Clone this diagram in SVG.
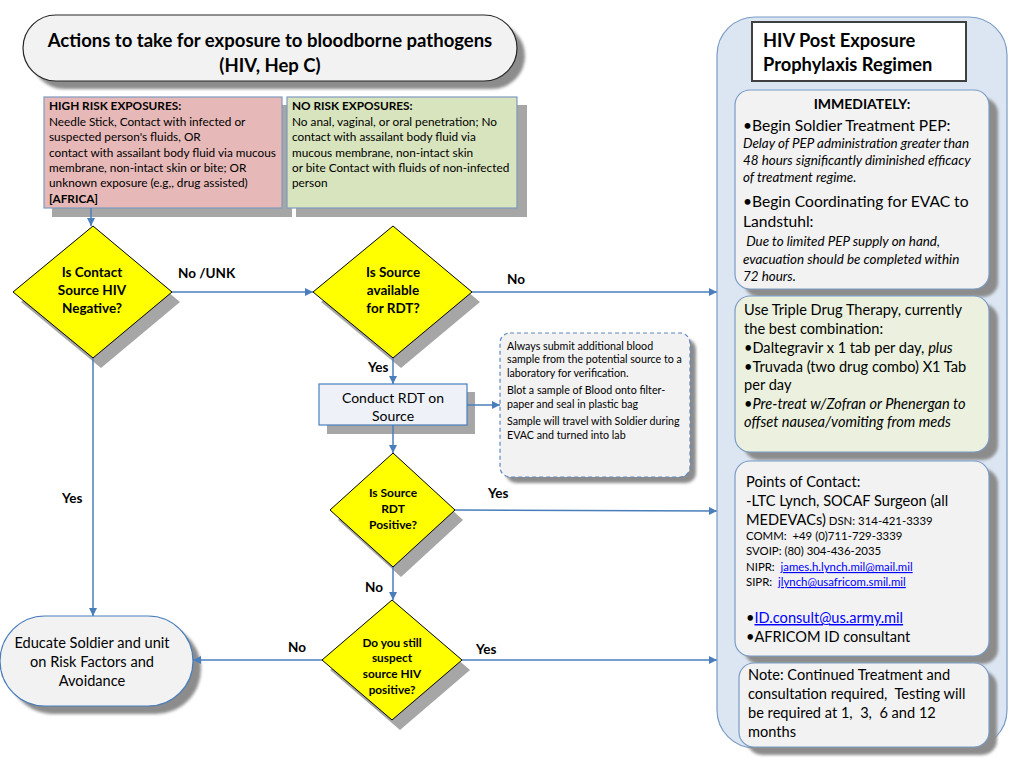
<svg xmlns="http://www.w3.org/2000/svg" width="1024" height="768" viewBox="0 0 1024 768">
<defs>
<marker id="arr" viewBox="0 0 10 10" refX="10" refY="5" markerWidth="8" markerHeight="8" markerUnits="userSpaceOnUse" orient="auto">
<path d="M0,0 L10,5 L0,10 z" fill="#4a7ebb"/>
</marker>
<filter id="blur" x="-10%" y="-10%" width="120%" height="120%"><feGaussianBlur stdDeviation="1.5"/></filter>
</defs>
<style>
text{font-family:Lato,"Liberation Sans",sans-serif;fill:#000;white-space:pre}
.b{font-weight:bold}
.i{font-style:italic}
.sh{fill:#8c8c8c;filter:url(#blur)}
.dsh{fill:#a6a6a6}
.dia{fill:#ffff00;stroke:#000;stroke-width:1}
.con{stroke:#4a7ebb;stroke-width:1.5;fill:none;marker-end:url(#arr)}
.lnk{fill:#0000ff;text-decoration:underline}
.lbl{font-size:13.5px;font-weight:bold}
.panel{fill:#f2f2f2;stroke:#7a9cc6;stroke-width:1.2}
</style>
<rect width="1024" height="768" fill="#fff"/>

<g id="title">
<rect x="31" y="23" width="494" height="66" rx="33" class="sh"/>
<rect x="23" y="15" width="494" height="66" rx="33" fill="#f2f2f2" stroke="#262626" stroke-width="1.2"/>
<text x="270" y="47" text-anchor="middle" class="b" font-size="18.5">Actions to take for exposure to bloodborne pathogens</text>
<text x="270" y="72" text-anchor="middle" class="b" font-size="18.5">(HIV, Hep C)</text>
</g>

<g id="high-risk">
<rect x="52" y="105" width="240" height="112" fill="#a6a6a6"/>
<rect x="44" y="97" width="238" height="111" fill="#e6b9b8" stroke="#7f99bd" stroke-width="1.2"/>
<g font-size="11.8">
<text x="49" y="110" class="b">HIGH RISK EXPOSURES:</text>
<text x="49" y="126">Needle Stick, Contact with infected or</text>
<text x="49" y="141">suspected person's fluids, OR</text>
<text x="49" y="157">contact with assailant body fluid via mucous</text>
<text x="49" y="172">membrane, non-intact skin or bite; OR</text>
<text x="49" y="187">unknown exposure (e.g,, drug assisted)</text>
<text x="49" y="203" class="b">[AFRICA]</text>
</g>
</g>

<g id="no-risk">
<rect x="296" y="105" width="231" height="112" fill="#a6a6a6"/>
<rect x="287" y="97" width="230" height="111" fill="#d7e4bd" stroke="#7f99bd" stroke-width="1.2"/>
<g font-size="11.8">
<text x="292" y="110" class="b">NO RISK EXPOSURES:</text>
<text x="292" y="126">No anal, vaginal, or oral penetration; No</text>
<text x="292" y="141">contact with assailant body fluid via</text>
<text x="292" y="157">mucous membrane, non-intact skin</text>
<text x="292" y="172">or bite Contact with fluids of non-infected</text>
<text x="292" y="187">person</text>
</g>
</g>

<g id="d1">
<polygon points="101,236 180,302 101,368 21,302" class="dsh"/>
<polygon points="93,226 172,292 93,358 13,292" class="dia"/>
<g font-size="13.5" text-anchor="middle">
<text x="92" y="277" class="b">Is Contact</text>
<text x="92" y="295" class="b">Source HIV</text>
<text x="92" y="313" class="b">Negative?</text>
</g>
</g>

<g id="d2">
<polygon points="401,236 480,302 401,368 321,302" class="dsh"/>
<polygon points="393,226 472,292 393,358 313,292" class="dia"/>
<g font-size="13.5" text-anchor="middle">
<text x="393" y="277" class="b">Is Source</text>
<text x="393" y="295" class="b">available</text>
<text x="393" y="313" class="b">for RDT?</text>
</g>
</g>

<g id="rdt">
<rect x="327" y="392" width="148" height="42" fill="#a6a6a6"/>
<rect x="319" y="384" width="148" height="41" fill="#eef2f8" stroke="#4a7ebb" stroke-width="1.2"/>
<text x="393" y="403" text-anchor="middle" font-size="14">Conduct RDT on</text>
<text x="393" y="421" text-anchor="middle" font-size="14">Source</text>
</g>

<g id="note-sample">
<rect x="506" y="339" width="190" height="144" rx="10" class="sh"/>
<rect x="500" y="333" width="190" height="144" rx="10" fill="#f2f2f2" stroke="#5f88bf" stroke-width="1.2" stroke-dasharray="4,3"/>
<g font-size="10.7">
<text x="507" y="350">Always submit additional blood</text>
<text x="507" y="363">sample from the potential source to a</text>
<text x="507" y="377">laboratory for verification.</text>
<text x="507" y="394">Blot a sample of Blood onto filter-</text>
<text x="507" y="408">paper and seal in plastic bag</text>
<text x="507" y="425">Sample will travel with Soldier during</text>
<text x="507" y="439">EVAC and turned into lab</text>
</g>
</g>

<g id="d3">
<polygon points="401,463 463,520 401,577 338,520" class="dsh"/>
<polygon points="393,453 455,510 393,567 330,510" class="dia"/>
<g font-size="12" text-anchor="middle">
<text x="393" y="497" class="b">Is Source</text>
<text x="393" y="513" class="b">RDT</text>
<text x="393" y="529" class="b">Positive?</text>
</g>
</g>

<g id="d4">
<polygon points="400,610 470,670 400,730 330,670" class="dsh"/>
<polygon points="392,600 462,660 392,720 322,660" class="dia"/>
<g font-size="11.8" text-anchor="middle">
<text x="392" y="647" class="b">Do you still</text>
<text x="392" y="662" class="b">suspect</text>
<text x="392" y="678" class="b">source HIV</text>
<text x="392" y="694" class="b">positive?</text>
</g>
</g>

<g id="educate">
<rect x="8" y="624" width="193" height="90" rx="45" class="sh"/>
<rect x="0" y="616" width="193" height="90" rx="45" fill="#f2f2f2" stroke="#4a7ebb" stroke-width="1.2"/>
<g font-size="14.6" text-anchor="middle">
<text x="92" y="648">Educate Soldier and unit</text>
<text x="92" y="667">on Risk Factors and</text>
<text x="92" y="686">Avoidance</text>
</g>
</g>

<g id="connectors">
<line x1="91" y1="208" x2="91" y2="226" class="con"/>
<line x1="172" y1="292" x2="313" y2="292" class="con"/>
<line x1="472" y1="292" x2="717" y2="292" class="con"/>
<line x1="393" y1="358" x2="393" y2="384" class="con"/>
<line x1="467" y1="405" x2="500" y2="405" class="con"/>
<line x1="393" y1="425" x2="393" y2="453" class="con"/>
<line x1="455" y1="510" x2="717" y2="511" class="con"/>
<line x1="393" y1="567" x2="393" y2="600" class="con"/>
<line x1="322" y1="660" x2="193" y2="660" class="con"/>
<line x1="462" y1="660" x2="717" y2="660" class="con"/>
<line x1="93" y1="358" x2="93" y2="616" class="con"/>
<text x="178" y="278" class="lbl">No /UNK</text>
<text x="507" y="284" class="lbl">No</text>
<text x="368" y="372" class="lbl">Yes</text>
<text x="488" y="498" class="lbl">Yes</text>
<text x="365" y="592" class="lbl">No</text>
<text x="288" y="652" class="lbl">No</text>
<text x="476" y="654" class="lbl">Yes</text>
<text x="62" y="503" class="lbl">Yes</text>
</g>

<g id="regimen-panel">
<rect x="717" y="17" width="290" height="731" rx="38" fill="#dce6f2" stroke="#7a9cc6" stroke-width="1.2"/>
<rect x="752" y="22" width="214" height="59" fill="#fff" stroke="#404040" stroke-width="2"/>
<text x="763" y="47" class="b" font-size="18.3">HIV Post Exposure</text>
<text x="763" y="71" class="b" font-size="18.3">Prophylaxis Regimen</text>
</g>

<g id="immediately">
<rect x="744" y="98" width="254" height="199" rx="15" class="sh"/>
<rect x="735" y="90" width="254" height="199" rx="15" class="panel"/>
<text x="862" y="109" text-anchor="middle" class="b" font-size="14">IMMEDIATELY:</text>
<text x="743" y="131" font-size="15.6">•Begin Soldier Treatment PEP:</text>
<g font-size="13.4">
<text x="743" y="148" class="i">Delay of PEP administration greater than</text>
<text x="743" y="165" class="i">48 hours significantly diminished efficacy</text>
<text x="743" y="182" class="i">of treatment regime.</text>
</g>
<text x="743" y="207" font-size="15.6">•Begin Coordinating for EVAC to</text>
<text x="743" y="227" font-size="15.6">Landstuhl:</text>
<g font-size="13.4">
<text x="743" y="246" class="i"> Due to limited PEP supply on hand,</text>
<text x="743" y="264" class="i">evacuation should be completed within</text>
<text x="743" y="281" class="i">72 hours.</text>
</g>
</g>

<g id="triple">
<rect x="744" y="304" width="254" height="156" rx="15" class="sh"/>
<rect x="735" y="296" width="254" height="156" rx="15" fill="#ebf1de" stroke="#7a9cc6" stroke-width="1.2"/>
<g font-size="14.6">
<text x="744" y="315">Use Triple Drug Therapy, currently</text>
<text x="744" y="334">the best combination:</text>
<text x="744" y="353">•Daltegravir x 1 tab per day, <tspan class="i">plus</tspan></text>
<text x="744" y="372">•Truvada (two drug combo) X1 Tab</text>
<text x="744" y="390">per day</text>
<text x="744" y="409">•<tspan class="i">Pre-treat w/Zofran or Phenergan to</tspan></text>
<text x="744" y="427" class="i">offset nausea/vomiting from meds</text>
</g>
</g>

<g id="contact">
<rect x="744" y="469" width="254" height="195" rx="15" class="sh"/>
<rect x="735" y="461" width="254" height="195" rx="15" class="panel"/>
<text x="746" y="487" font-size="14.6">Points of Contact:</text>
<text x="746" y="506" font-size="14.6">-LTC Lynch, SOCAF Surgeon (all</text>
<text x="746" y="525" font-size="14.6">MEDEVACs)<tspan font-size="11.4"> DSN: 314-421-3339</tspan></text>
<g font-size="11.4">
<text x="746" y="540">COMM:  +49 (0)711-729-3339</text>
<text x="746" y="555">SVOIP: (80) 304-436-2035</text>
<text x="746" y="571">NIPR:  <tspan class="lnk">james.h.lynch.mil@mail.mil</tspan></text>
<text x="746" y="586">SIPR:  <tspan class="lnk">jlynch@usafricom.smil.mil</tspan></text>
</g>
<text x="746" y="623" font-size="14.6">•<tspan class="lnk">ID.consult@us.army.mil</tspan></text>
<text x="746" y="642" font-size="14.6">•AFRICOM ID consultant</text>
</g>

<g id="note">
<rect x="747" y="671" width="250" height="84" rx="15" class="sh"/>
<rect x="739" y="663" width="250" height="84" rx="15" class="panel"/>
<g font-size="14.6">
<text x="748" y="680">Note: Continued Treatment and</text>
<text x="748" y="699">consultation required,  Testing will</text>
<text x="748" y="718">be required at 1,  3,  6 and 12</text>
<text x="748" y="737">months</text>
</g>
</g>
</svg>
